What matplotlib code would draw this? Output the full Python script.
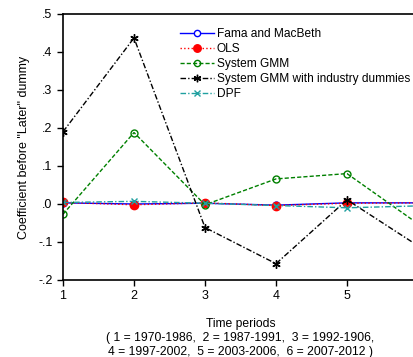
import matplotlib
matplotlib.use("Agg")
import matplotlib.pyplot as plt

periods = [1, 2, 3, 4, 5, 6]
fama_macbeth = [0.003, 0.000, 0.002, -0.003, 0.003, 0.003]
ols = [0.004, -0.002, 0.003, -0.004, 0.002, 0.003]
system_gmm = [-0.027, 0.188, -0.002, 0.066, 0.080, -0.052]
system_gmm_ind = [0.19, 0.437, -0.062, -0.157, 0.011, -0.11]
dpf = [0.004, 0.007, 0.002, -0.004, -0.010, -0.005]

yticks = [-0.2, -0.1, 0.0, 0.1, 0.2, 0.3, 0.4, 0.5]
yticklabels = ["-.2", "-.1", ".0", ".1", ".2", ".3", ".4", ".5"]
xticks = [1, 2, 3, 4, 5]  # tick 6 falls outside the cropped picture

plt.rcParams['font.family'] = ['Liberation Sans', 'DejaVu Sans']

fig = plt.figure(figsize=(4.14, 3.57), dpi=100)
# axes run past the right edge, as in the original (period 6 is cut off)
ax = fig.add_axes([63 / 414, 77 / 357, 355 / 414, 266 / 357])

ax.plot(periods, fama_macbeth, color='blue', linestyle='-', lw=1,
        marker='o', mfc='white', mec='blue', ms=5, label='Fama and MacBeth')
ax.plot(periods, ols, color='red', linestyle=':', lw=1,
        marker='o', mfc='red', mec='red', ms=6, label='OLS')
ax.plot(periods, system_gmm, color='green', linestyle=(0, (3, 1.5)), lw=1,
        marker='o', mfc='none', mec='green', ms=5, label='System GMM')
ax.plot(periods, system_gmm_ind, color='black', linestyle=(0, (4, 1.5, 1, 1.5)), lw=1,
        marker=(6, 2, 0), ms=6, mec='black', label='System GMM with industry dummies')
ax.plot(periods, dpf, color='#20a0a0', linestyle=(0, (4, 1.5, 1, 1.5)), lw=1,
        marker='x', ms=5, mec='#20a0a0', label='DPF')

ax.set_xlim(1, 6)
ax.set_ylim(-0.2, 0.5)
ax.set_yticks(yticks)
ax.set_yticklabels(yticklabels)
ax.set_xticks(xticks)
ax.tick_params(labelsize=9, direction='out', length=4, width=1)
for s in ax.spines.values():
    s.set_linewidth(1.2)

ax.set_ylabel('Coefficient before "Later" dummy', fontsize=9, labelpad=6)
ax.set_xlabel('Time periods\n( 1 = 1970-1986,  2 = 1987-1991,  3 = 1992-1906,\n'
              '4 = 1997-2002,  5 = 2003-2006,  6 = 2007-2012 )',
              fontsize=8.7, labelpad=11, linespacing=1.25)

ax.legend(loc='upper left', bbox_to_anchor=(0.315, 0.965), frameon=False,
          fontsize=8.6, handlelength=2.9, handletextpad=0.2, labelspacing=0.25,
          borderaxespad=0, markerscale=0.9)

fig.savefig('out.png', dpi=100)
